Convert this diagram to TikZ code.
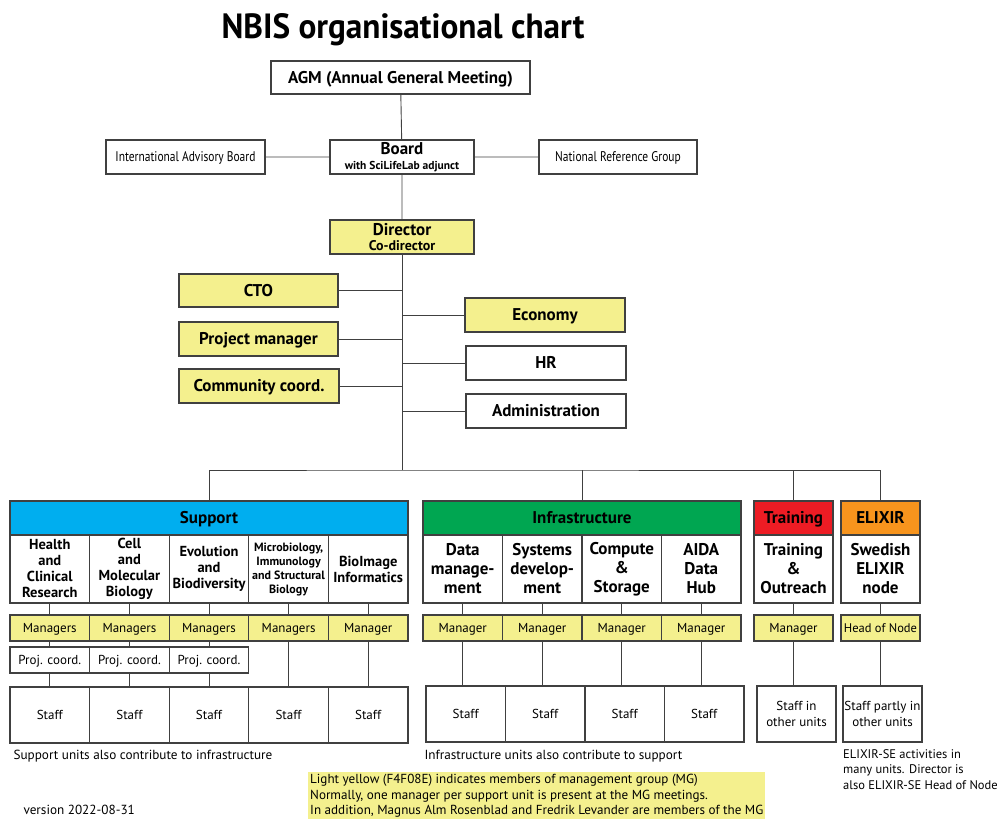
\documentclass[tikz,border=0pt]{standalone}
\usepackage{fontspec}
\setmainfont{PT Sans}
\newfontfamily\condfont[FakeStretch=0.82]{PT Sans}
\newfontfamily\titlefont[FakeStretch=0.95]{PT Sans}
\usetikzlibrary{positioning}

\definecolor{mgyellow}{HTML}{F4F08E}
\definecolor{supblue}{HTML}{00AEEF}
\definecolor{infgreen}{HTML}{00A651}
\definecolor{trred}{HTML}{ED1C24}
\definecolor{elorange}{HTML}{F7941D}

\newcommand\fhead{\bfseries\fontsize{17}{19}\selectfont}
\newcommand\funit{\bfseries\fontsize{17}{19}\selectfont}
\newcommand\fmid{\fontsize{13}{15.5}\selectfont}
\newcommand\fnote{\fontsize{13.2}{16}\selectfont}

\begin{document}
\begin{tikzpicture}[x=1pt,y=-1pt,
    box/.style={draw=black!75,line width=1.1pt,inner sep=0pt,align=center},
    mg/.style={box,fill=mgyellow},
    one/.style={text height=#1*0.7pt,text depth=0.4pt},
    one/.default=17,
    sz/.style 2 args={minimum width=#1,minimum height=#2},
    wire/.style={draw=black!75,line width=0.9pt}]
  \useasboundingbox (0,0) rectangle (1000,819);

  \node[font=\titlefont\bfseries\fontsize{35}{38}\selectfont] (title) at (403,30) {NBIS organisational chart};

  % governance
  \node[box,one,sz={259}{33},font=\fhead] (agm) at (400.5,77.5) {AGM (Annual General Meeting)};
  \node[box,sz={144}{34},font=\fhead] (board) at (402,157)
    {Board\\[-4pt]{\bfseries\fontsize{11.5}{12}\selectfont with SciLifeLab adjunct}};
  \node[box,one=14,sz={159}{34},font=\condfont\fontsize{14}{16}\selectfont] (iab) at (185.5,157) {International Advisory Board};
  \node[box,one=14,sz={158}{34},font=\condfont\fontsize{14}{16}\selectfont] (nrg) at (618,157) {National Reference Group};
  \node[mg,sz={144}{34},font=\fhead] (dir) at (402,237)
    {Director\\[-4pt]{\bfseries\fontsize{14}{14}\selectfont Co-director}};
  \draw[wire] (agm) -- (board) (board) -- (dir) (iab) -- (board) (board) -- (nrg);

  % staff functions
  \node[mg,one,sz={159}{33},font=\fhead] (cto) at (258.5,290.5) {CTO};
  \node[mg,one,sz={159}{34},font=\fhead] (pm) at (258.5,339) {Project manager};
  \node[mg,one,sz={160}{34},font=\fhead] (cc) at (259,386) {Community coord.};
  \node[mg,one,sz={160}{34},font=\fhead] (eco) at (545,315) {Economy};
  \node[box,one,sz={160}{34},font=\fhead] (hr) at (546,363) {HR};
  \node[box,one,sz={160}{34},font=\fhead] (adm) at (546,411) {Administration};
  \draw[wire] (dir) -- (402,470) coordinate (bus);
  \foreach \n in {cto,pm,cc} \draw[wire] (\n.east) -- (\n.east -| dir.south);
  \foreach \n in {eco,hr,adm} \draw[wire] (\n.west) -- (\n.west -| dir.south);

  % branches
  \node[box,one,fill=supblue,sz={398}{34},font=\fhead] (sup) at (209,518) {Support};
  \node[box,one,fill=infgreen,sz={318}{34},font=\fhead] (inf) at (582,518) {Infrastructure};
  \node[box,one,fill=trred,sz={79}{34},font=\fhead] (tr) at (793.5,518) {Training};
  \node[box,one,fill=elorange,sz={79}{34},font=\fhead] (elx) at (880.5,518) {ELIXIR};
  \draw[wire] (sup.north) |- (bus) -| (elx.north);
  \draw[wire] (inf.north) -- (inf.north |- bus) (tr.north) -- (tr.north |- bus);

  % support units
  \foreach \i/\fs/\fl/\mgr/\unit in {0/14.5/16/Managers/{Health\\and\\Clinical\\Research},
      1/14.5/16/Managers/{Cell\\and\\Molecular\\Biology},
      2/14.5/16/Managers/{Evolution\\and\\Biodiversity},
      3/12/14/Managers/{Microbiology,\\Immunology\\and Structural\\Biology},
      4/14.5/16/Manager/{BioImage\\Informatics}} {
    \pgfmathsetmacro\xc{10+79.6*(\i+0.5)}
    \node[box,sz={79.6}{68},font=\bfseries\fontsize{\fs}{\fl}\selectfont] (su\i) at (\xc,569) {\unit};
    \node[mg,one=13,sz={79.6}{26},font=\fmid] (sm\i) at (\xc,628) {\mgr};
    \node[box,one=13,sz={79.6}{56},font=\fmid] (ss\i) at (\xc,715) {Staff};
    \draw[wire] (su\i) -- (sm\i);
  }
  \foreach \i in {0,1,2} {
    \pgfmathsetmacro\xc{10+79.6*(\i+0.5)}
    \node[box,one=13,sz={79.6}{26},font=\fmid] (sp\i) at (\xc,660) {Proj. coord.};
    \draw[wire] (sm\i) -- (sp\i) (sp\i) -- (ss\i);
  }
  \draw[wire] (sm3) -- (ss3) (sm4) -- (ss4);
  \node[anchor=west,font=\fnote] (supnote) at (10,756) {Support units also contribute to infrastructure};

  % infrastructure units
  \foreach \i/\unit in {0/{Data\\manage-\\ment},1/{Systems\\develop-\\ment},
      2/{Compute\\\&\\Storage},3/{AIDA\\Data\\Hub}} {
    \pgfmathsetmacro\xc{423+79.5*(\i+0.5)}
    \node[box,sz={79.5}{68},font=\funit] (iu\i) at (\xc,569) {\unit};
    \node[mg,one=13,sz={79.5}{26},font=\fmid] (im\i) at (\xc,628) {Manager};
    \node[box,one=13,sz={79.5}{56},font=\fmid] (is\i) at (\xc+3,714) {Staff};
    \draw[wire] (iu\i) -- (im\i) (im\i.south) -- (im\i.south |- is\i.north);
  }
  \node[anchor=west,font=\fnote] (infnote) at (421,756) {Infrastructure units also contribute to support};

  % training and elixir
  \node[box,sz={79}{68},font=\funit] (tru) at (793.5,569) {Training\\\&\\Outreach};
  \node[mg,one=13,sz={79}{26},font=\fmid] (trm) at (793.5,628) {Manager};
  \node[box,sz={79}{56},font=\fmid] (trs) at (796.5,714) {Staff in\\other units};
  \node[box,sz={79}{68},font=\funit] (elu) at (880.5,569) {Swedish\\ELIXIR\\node};
  \node[mg,one=13,sz={79}{26},font=\fontsize{12.5}{15}\selectfont] (elm) at (880.5,628) {Head of Node};
  \node[box,sz={79}{56},font=\fmid] (els) at (882.5,714) {Staff partly in\\other units};
  \draw[wire] (tru) -- (trm) (trm.south) -- (trm.south |- trs.north);
  \draw[wire] (elu) -- (elm) (elm.south) -- (elm.south |- els.north);
  \node[anchor=north west,align=left,inner sep=0pt,font=\fontsize{12.5}{15.5}\selectfont] (elxnote) at (843,749)
    {ELIXIR-SE activities in\\many units. Director is\\also ELIXIR-SE Head of Node};

  % legend
  \fill[mgyellow] (308,772) rectangle (765,819);
  \node[anchor=north west,align=left,inner sep=0pt,font=\fontsize{13.1}{15.5}\selectfont] (legend) at (310,774)
    {Light yellow (F4F08E) indicates members of management group (MG)\\
     Normally, one manager per support unit is present at the MG meetings.\\
     In addition, Magnus Alm Rosenblad and Fredrik Levander are members of the MG};
  \node[anchor=west,font=\fnote] (version) at (20,810) {version 2022-08-31};
\end{tikzpicture}
\end{document}
